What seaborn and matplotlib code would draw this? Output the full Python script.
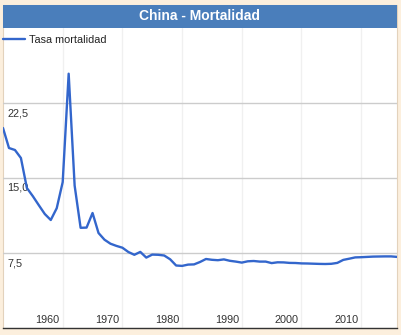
import matplotlib
matplotlib.use("Agg")
import matplotlib.pyplot as plt
import matplotlib.transforms as mtransforms
from matplotlib.patches import Rectangle
import seaborn as sns
import pandas as pd

# ---- data ----
years = list(range(1950, 2017))
tasa_mortalidad = [
    20.0, 18.0, 17.8, 17.0, 14.0, 13.18, 12.28, 11.4, 10.8, 11.98,
    14.59, 25.43, 14.24, 10.02, 10.04, 11.5, 9.5, 8.83, 8.43, 8.21,
    8.03, 7.6, 7.32, 7.61, 7.04, 7.34, 7.32, 7.25, 6.87, 6.25,
    6.21, 6.34, 6.36, 6.6, 6.9, 6.82, 6.78, 6.86, 6.72, 6.64,
    6.54, 6.67, 6.7, 6.64, 6.64, 6.49, 6.57, 6.56, 6.51, 6.5,
    6.46, 6.45, 6.43, 6.41, 6.4, 6.42, 6.51, 6.81, 6.93, 7.06,
    7.08, 7.11, 7.14, 7.15, 7.16, 7.16, 7.11,
]
x_ticks = [1960, 1970, 1980, 1990, 2000, 2010]
x_labels = ["1960", "1970", "1980", "1990", "2000", "2010"]
y_ticks = [7.5, 15.0, 22.5]
y_labels = ["7,5", "15,0", "22,5"]
title = "China - Mortalidad"
series_name = "Tasa mortalidad"

df = pd.DataFrame({"year": years, "rate": tasa_mortalidad})

sns.set_theme(style="white")
plt.rcParams["font.family"] = ["Liberation Sans", "DejaVu Sans"]

W, H, DPI = 402, 335, 100
fig = plt.figure(figsize=(W / DPI, H / DPI), dpi=DPI)
fig.patch.set_facecolor("#fcefdd")

def px(x, y, w, h):
    return (x / W, y / H, w / W, h / H)

# white panel
pl, pb, pw, ph = px(3, 7, 394, 323)
fig.patches.append(Rectangle((pl, pb), pw, ph, transform=fig.transFigure,
                             facecolor="white", edgecolor="#e3d2bc", lw=0.8, zorder=-2))
# title bar
tl, tb, tw, th = px(3, 307, 394, 23)
fig.patches.append(Rectangle((tl, tb), tw, th, transform=fig.transFigure,
                             facecolor="#4a7ebb", edgecolor="none", zorder=-1))
fig.text(200 / W, 318.5 / H, title, color="white", fontsize=10, fontweight="bold",
         ha="center", va="center")

ax = fig.add_axes(px(3, 7, 394, 300))
ax.set_zorder(5)
ax.set_facecolor("none")

sns.lineplot(data=df, x="year", y="rate", ax=ax, color="#3366cc", linewidth=1.7,
             label=series_name)

ax.set_xlim(years[0], years[-1])
ax.set_ylim(0, 30)
ax.set_xlabel("")
ax.set_ylabel("")

for s in ["top", "left", "right"]:
    ax.spines[s].set_visible(False)
ax.spines["bottom"].set_color("#333333")
ax.spines["bottom"].set_linewidth(1.0)

ax.set_yticks(y_ticks)
ax.set_yticklabels(y_labels)
ax.set_xticks(x_ticks)
ax.set_xticklabels(x_labels)
ax.grid(False)
ax.yaxis.grid(True, color="#cccccc", linewidth=1.0)
ax.xaxis.grid(True, color="#f0f0f0", linewidth=1.0)
ax.set_axisbelow(True)

ax.tick_params(axis="both", length=0, pad=0, labelsize=7.8, labelcolor="#333333")

for lab in ax.get_yticklabels():
    lab.set_horizontalalignment("left")
    lab.set_verticalalignment("center")
    lab.set_transform(lab.get_transform() +
                      mtransforms.ScaledTranslation(4 / DPI, -10 / DPI, fig.dpi_scale_trans))
for lab in ax.get_xticklabels():
    lab.set_verticalalignment("center")
    lab.set_transform(lab.get_transform() +
                      mtransforms.ScaledTranslation(-15 / DPI, 8 / DPI, fig.dpi_scale_trans))

leg = ax.legend(loc="center left", bbox_to_anchor=(3 / W, 295 / H),
                bbox_transform=fig.transFigure, frameon=False, borderpad=0,
                borderaxespad=0, handlelength=2.0, handletextpad=0.4,
                fontsize=7.8)
for t in leg.get_texts():
    t.set_color("#222222")

fig.savefig("out.png", dpi=DPI, facecolor=fig.get_facecolor())
